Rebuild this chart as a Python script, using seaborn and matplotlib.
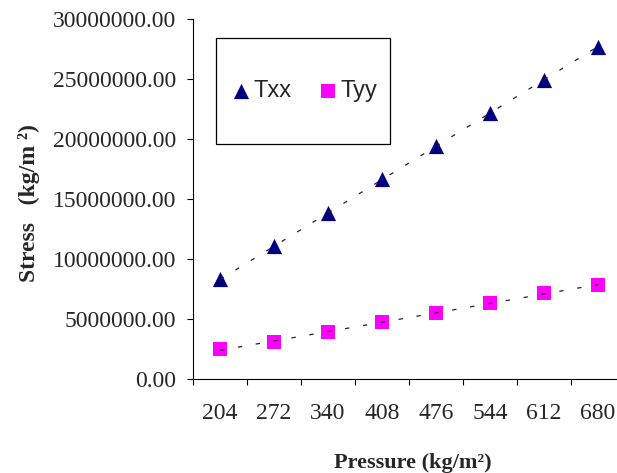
import numpy as np
import matplotlib
matplotlib.use("Agg")
import matplotlib.pyplot as plt
from matplotlib.patches import Rectangle
from matplotlib.ticker import FixedLocator, NullFormatter, FixedFormatter, StrMethodFormatter
import seaborn as sns

# Applied pressure (kg/m^2) and resulting stress components (kg/m^2)
pressure = [204, 272, 340, 408, 476, 544, 612, 680]
txx = [8.30e6, 11.05e6, 13.80e6, 16.65e6, 19.40e6, 22.15e6, 24.95e6, 27.70e6]
tyy = [2.47e6, 3.10e6, 3.90e6, 4.72e6, 5.52e6, 6.35e6, 7.15e6, 7.80e6]
series_names = ["Txx", "Tyy"]
x_tick_labels = [str(p) for p in pressure]

sns.set_style("ticks")
plt.rcParams["font.family"] = ["Liberation Serif", "DejaVu Serif"]

W, H = 617, 473
fig = plt.figure(figsize=(W / 100, H / 100), dpi=100)
fig.patch.set_facecolor("white")
ax_left, ax_bottom, ax_w, ax_h = 193, 94, 432, 360
ax = fig.add_axes([ax_left / W, ax_bottom / H, ax_w / W, ax_h / H])
ax.set_facecolor("white")

navy = "#000080"
magenta = "#FF00FF"

sns.scatterplot(x=pressure, y=txx, marker="^", color=navy, s=120, linewidth=0,
                label=series_names[0], ax=ax, zorder=3)
sns.scatterplot(x=pressure, y=tyy, marker="s", color=magenta, s=95, linewidth=0,
                label=series_names[1], ax=ax, zorder=3)

trend_kws = dict(color="#222222", lw=0.9, ls=(0, (3.5, 11)), zorder=4)
sns.regplot(x=pressure, y=txx, order=2, ci=None, scatter=False, truncate=True,
            line_kws=trend_kws, ax=ax)
sns.regplot(x=pressure, y=tyy, order=2, ci=None, scatter=False, truncate=True,
            line_kws=trend_kws, ax=ax)

# Axes limits and ticks
step = pressure[1] - pressure[0]
ax.set_xlim(pressure[0] - step / 2, pressure[-1] + step / 2)
ax.set_ylim(0, 30e6)

bounds = [pressure[0] - step / 2 + i * step for i in range(len(pressure) + 1)]
ax.xaxis.set_major_locator(FixedLocator(bounds))
ax.xaxis.set_major_formatter(NullFormatter())
ax.xaxis.set_minor_locator(FixedLocator(pressure))
ax.xaxis.set_minor_formatter(FixedFormatter(x_tick_labels))
ax.tick_params(axis="x", which="major", direction="out", length=4, width=0.8, color="black")
ax.tick_params(axis="x", which="minor", length=0, pad=17, labelsize=17)

ax.yaxis.set_major_locator(FixedLocator(np.arange(0, 30e6 + 1, 5e6)))
ax.yaxis.set_major_formatter(StrMethodFormatter("{x:.2f}"))
ax.tick_params(axis="y", direction="out", length=4, width=0.8, color="black",
               pad=8, labelsize=17)

for side in ("top", "right"):
    ax.spines[side].set_visible(False)
for side in ("left", "bottom"):
    ax.spines[side].set_color("black")
    ax.spines[side].set_linewidth(0.8)

ax.set_xlabel("Pressure (kg/m²)", fontsize=16, fontweight="bold")
ax.xaxis.set_label_coords(0.509, -0.205)
ax.set_ylabel("Stress   (kg/m ²)", fontsize=17, fontweight="bold")
ax.yaxis.set_label_coords(-0.355, 0.49)

# Legend inside a plain rectangular frame
leg = ax.legend(loc="center", bbox_to_anchor=(0.258, 0.80), frameon=False, ncol=2,
                prop={"family": "Liberation Sans", "size": 17},
                handlelength=0.8, handletextpad=0.15, columnspacing=1.1,
                borderaxespad=0)
box_x0, box_x1, box_y0, box_y1 = 216, 390, 38, 144
axes_top_px = H - ax_bottom - ax_h
ax.add_patch(Rectangle(((box_x0 - ax_left) / ax_w, (axes_top_px + ax_h - box_y1) / ax_h),
                       (box_x1 - box_x0) / ax_w, (box_y1 - box_y0) / ax_h,
                       transform=ax.transAxes, fill=False, edgecolor="black",
                       linewidth=0.9, zorder=5, clip_on=False))

fig.savefig("out.png", dpi=100, facecolor="white")
